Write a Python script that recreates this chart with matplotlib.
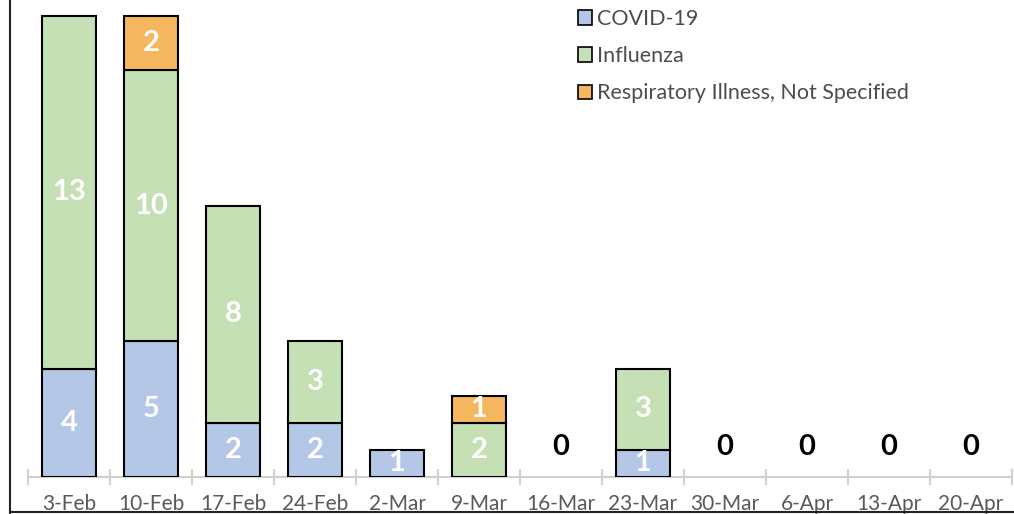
import matplotlib.pyplot as plt
import numpy as np
from matplotlib.lines import Line2D
from matplotlib.patches import Patch

weeks = ['3-Feb', '10-Feb', '17-Feb', '24-Feb', '2-Mar', '9-Mar', '16-Mar',
         '23-Mar', '30-Mar', '6-Apr', '13-Apr', '20-Apr']
covid = [4, 5, 2, 2, 1, 0, 0, 1, 0, 0, 0, 0]
influenza = [13, 10, 8, 3, 0, 2, 0, 3, 0, 0, 0, 0]
respiratory = [0, 2, 0, 0, 0, 1, 0, 0, 0, 0, 0, 0]

series = [('COVID-19', covid, '#B4C7E7'),
          ('Influenza', influenza, '#C5E0B4'),
          ('Respiratory Illness, Not Specified', respiratory, '#F4B65F')]

plt.rcParams['font.family'] = ['Lato', 'DejaVu Sans']

fig = plt.figure(figsize=(10.14, 5.14), dpi=100)
ax = fig.add_axes([28 / 1014, 37 / 514, 984 / 1014, 477 / 514])

x = np.arange(len(weeks))
bottom = np.zeros(len(weeks))
for name, vals, color in series:
    vals = np.array(vals)
    mask = vals > 0
    ax.bar(x[mask], vals[mask], 0.67, bottom=bottom[mask], color=color,
           edgecolor='black', linewidth=1.5, label=name, zorder=3)
    for xi, v, b in zip(x, vals, bottom):
        if v > 0:
            ax.text(xi, b + v / 2, str(v), ha='center', va='center',
                    color='white', fontsize=21, fontweight='bold', zorder=4)
    bottom += vals

for xi, total in zip(x, bottom):
    if total == 0:
        ax.text(xi, 1.1, '0', ha='center', va='center', color='black',
                fontsize=21, fontweight='bold')

ax.set_xlim(-0.5, len(weeks) - 0.5)
ax.set_ylim(0, 17.6)
ax.set_yticks([])
ax.set_xticks(x)
ax.set_xticklabels(weeks, fontsize=15, color='#595959')
ax.tick_params(axis='x', which='major', length=0, pad=12)
ax.set_xticks(np.arange(-0.5, len(weeks)), minor=True)
ax.tick_params(axis='x', which='minor', length=12, direction='inout',
               color='#D0D0D0', width=1.5)
for s in ['top', 'right', 'left']:
    ax.spines[s].set_visible(False)
ax.spines['bottom'].set_color('#D0D0D0')
ax.spines['bottom'].set_linewidth(1.5)

handles = [Patch(facecolor=c, edgecolor='black', linewidth=1.2, label=n)
           for n, _, c in series]
leg = ax.legend(handles=handles, loc='upper left', bbox_to_anchor=(0.539, 1.022),
                frameon=False, fontsize=15.5, labelcolor='#4D4D4D',
                handlelength=0.65, handleheight=0.65, handletextpad=0.25,
                labelspacing=0.8)

fig.add_artist(Line2D([10 / 1014, 10 / 1014], [0, 1], color='#222222', lw=1.5))
fig.add_artist(Line2D([10 / 1014, 1], [2 / 514, 2 / 514], color='#222222', lw=1.5))

fig.savefig('out.png', dpi=100)
